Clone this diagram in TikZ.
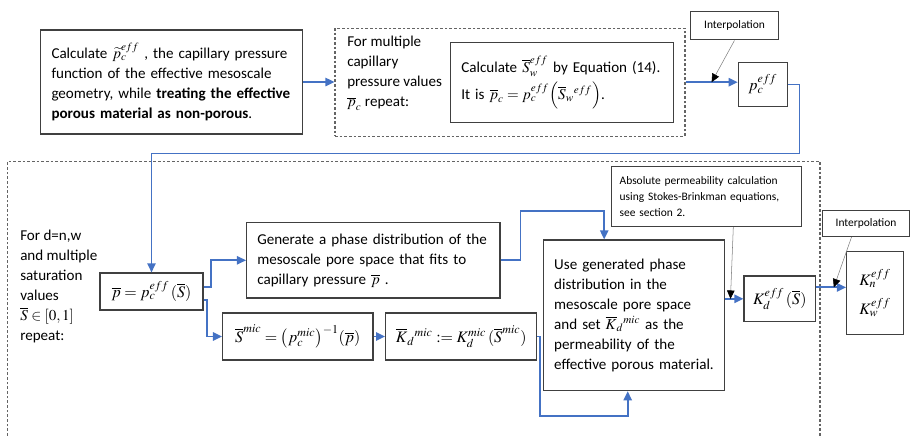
\documentclass[tikz,border=0pt]{standalone}
\usepackage{mathptmx}
\usepackage[no-math]{fontspec}
\setmainfont{Carlito}
\usepackage{xcolor}
\usetikzlibrary{arrows.meta,positioning,calc}
\definecolor{flowblue}{RGB}{68,114,196}
\definecolor{boxline}{RGB}{64,64,64}
\definecolor{loopline}{RGB}{100,100,100}
\newcommand{\bodyfont}{\fontsize{11.3}{15}\selectfont}
\newcommand{\notefont}{\fontsize{8.6}{12}\selectfont}
\newcommand{\formfont}{\fontsize{12}{16}\selectfont}
\tikzset{
  stepbox/.style={draw=boxline, line width=0.9pt, fill=white, align=left,
    font=\bodyfont, inner xsep=8pt, inner ysep=3pt},
  formbox/.style={draw=boxline, line width=0.9pt, fill=white, align=center,
    font=\formfont, inner sep=2pt},
  notebox/.style={draw=boxline, line width=0.7pt, fill=white, align=left,
    font=\notefont, inner xsep=6.5pt},
  % Schleifen
  loopbox/.style={draw=loopline, line width=0.8pt, dash pattern=on 2pt off 1.5pt},
  looptext/.style={align=left, font=\bodyfont, inner sep=0pt, anchor=north west},
  % Pfeile
  flow/.style={draw=flowblue, line width=1.3pt, -{Triangle[length=2.4mm, width=2.2mm]}},
  noteflow/.style={draw=gray, line width=0.4pt, -{Triangle[length=2.2mm, width=2mm, color=black]}}
}

\begin{document}
\begin{tikzpicture}[x=0.75pt, y=-0.75pt]
    \useasboundingbox (0,0) rectangle (910,437);

    % obere Zeile
    \node[stepbox, text width=180pt, minimum height=78pt] (calcpc) at (171.5,82)
      {Calculate $\widetilde{p}_c^{eff}$ , the capillary pressure\\function of the effective mesoscale\\geometry, while \textbf{treating the effective}\\\textbf{porous material as non-porous}.};
    \node[loopbox, minimum width=262.5pt, minimum height=80.8pt] (multipc) at (510,82.2) {};
    \node[looptext] (multitxt) at (347,36) {For multiple\\capillary\\pressure values\\$\overline{p}_c$ repeat:};
    \node[stepbox, text width=151pt, minimum height=60.3pt] (calcsw) at (562,82.5)
      {Calculate $\overline{S}_w^{eff}$ by Equation (14).\\[3pt]It is $\overline{p}_c = p_c^{eff}\Bigl(\overline{S}_w{}^{eff}\Bigr)$.};
    \node[notebox, align=center, minimum width=65.7pt, minimum height=21.2pt] (interpA) at (734.5,25.8) {Interpolation};
    \node[formbox, minimum width=36.75pt, minimum height=33.3pt] (pceff) at (762.8,84.5) {$p_c^{eff}$};

    % untere Schleife
    \draw[loopbox] (7.3,445) |- (820,161.7) -- (820,445);
    \node[looptext] (satxt) at (20,230) {For d=n,w\\and multiple\\saturation\\values\\$\overline{S}\in[0,1]$\\repeat:};
    \node[formbox, minimum width=77.25pt, minimum height=27.75pt] (pbar) at (151.5,291.5)
      {$\overline{p} = p_c^{eff}\,(\overline{S})$};
    \node[stepbox, text width=174pt, minimum height=56.5pt] (genphase) at (373.3,260.3)
      {Generate a phase distribution of the\\mesoscale pore space that fits to\\capillary pressure $\overline{p}$ .};
    \node[formbox, minimum width=112.7pt, minimum height=35.25pt] (smic) at (297.8,336.5)
      {$\overline{S}^{mic} = \bigl(p_c^{mic}\bigr)^{-1}(\overline{p})$};
    \node[formbox, minimum width=113.25pt, minimum height=35.25pt] (kmic) at (461.2,336.5)
      {$\overline{K}_d{}^{mic} := K_d^{mic}\,(\overline{S}^{mic})$};
    \node[stepbox, text width=120pt, minimum height=113pt] (usephase) at (634.2,315.3)
      {Use generated phase\\distribution in the\\mesoscale pore space\\and set $\overline{K}_d{}^{mic}$ as the\\permeability of the\\effective porous material.};
    \node[notebox, text width=130pt, minimum height=45pt] (stokes) at (706.3,196.7)
      {Absolute permeability calculation\\using Stokes-Brinkman equations,\\see section 2.};
    \node[formbox, minimum width=53.75pt, minimum height=34.3pt] (kdeff) at (779.8,298.8)
      {$K_d^{eff}\,(\overline{S})$};
    \node[notebox, align=center, minimum width=65.8pt, minimum height=19.3pt] (interpB) at (866,223.8) {Interpolation};
    \node[formbox, minimum width=42.5pt, minimum height=62pt] (kfinal) at (875,293)
      {$K_n^{eff}$\\[6pt]$K_w^{eff}$};

    \draw[flow] (calcpc.east) -- (calcpc.east -| multipc.west);
    \draw[flow] (multipc.east) -- (multipc.east -| pceff.west);
    \draw[noteflow] (interpA.south) -- ($(multipc.east)!0.5!(multipc.east -| pceff.west)$);
    \draw[flow] (pceff.east) -- ++(11.7,0) -- ++(0,69) -| (pbar.north);
    \draw[flow] ([yshift=3.6pt]pbar.east) -- ++(7.5,0) |- (genphase.west);
    \draw[flow] ([yshift=-6.4pt]pbar.east) -- ++(3.5,0) |- (smic.west);
    \draw[flow] (smic) -- (kmic);
    \draw[flow] (genphase.east) -- ++(20,0) -- ++(0,-49) -| ($(usephase.north)+(-30,0)$);
    \draw[flow] (kmic.east) -- ++(3,0) |- ($(usephase.south)+(-6.5,25)$) -- ($(usephase.south)+(-6.5,0)$);
    \draw[flow] (usephase.east |- kdeff.west) -- (kdeff.west);
    \draw[noteflow] ($(stokes.south)+(27,0)$) -- ($(usephase.east |- kdeff.west)+(5,0)$);
    \draw[flow] ([yshift=8.6pt]kdeff.east) -- ([yshift=8.6pt]kdeff.east -| kfinal.west);
    \draw[noteflow] ($(interpB.south)+(-14.5,0)$) -- ($([yshift=8.6pt]kdeff.east)+(17.6,0)$);
\end{tikzpicture}
\end{document}
